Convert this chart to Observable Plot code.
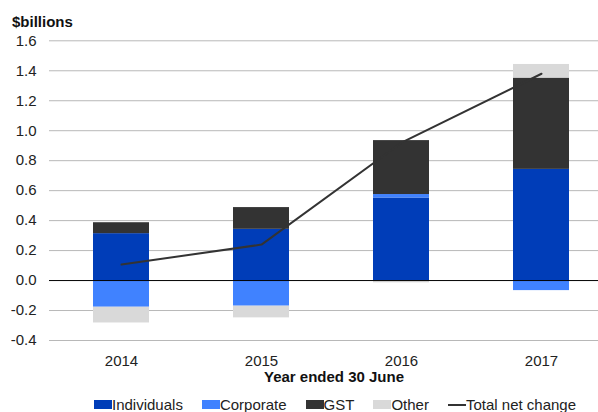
<!DOCTYPE html>
<html>
<head>
<meta charset="utf-8">
<script src="https://cdn.jsdelivr.net/npm/d3@7"></script>
<script src="https://cdn.jsdelivr.net/npm/@observablehq/plot@0.6"></script>
<style>
  html, body { margin: 0; padding: 0; background: #fff; }
  body { width: 598px; height: 412px; position: relative; overflow: hidden;
         font-family: Arial, "Liberation Sans", sans-serif; color: #222; }
  #title { position: absolute; left: 12px; top: 13px; font-size: 15px; font-weight: bold; line-height: 17px; color: #111; }
  #chart { position: absolute; left: 0; top: 30px; }
  #legend { position: absolute; left: 94px; top: 396px; display: flex; gap: 19px; font-size: 15px; line-height: 17px; white-space: nowrap; }
  .item { display: flex; align-items: center; }
  .sw { display: inline-block; width: 18px; height: 9px; }
  .ln { display: inline-block; width: 18px; height: 2px; }
</style>
</head>
<body>
<div id="title">$billions</div>
<div id="chart"></div>
<div id="legend"></div>
<script>
// ---- data ----
const years = ["2014", "2015", "2016", "2017"];
const seriesNames = ["Individuals", "Corporate", "GST", "Other"];
const individuals = [0.313, 0.342, 0.551, 0.742];
const corporate = [-0.178, -0.171, 0.023, -0.067];
const gst = [0.073, 0.145, 0.360, 0.609];
const other = [-0.105, -0.078, -0.015, 0.091];
const totalNetChange = [0.107, 0.240, 0.920, 1.380];
const yTicks = [-0.4, -0.2, 0.0, 0.2, 0.4, 0.6, 0.8, 1.0, 1.2, 1.4, 1.6];
const seriesColors = ["#003db8", "#4082ff", "#333333", "#d9d9d9"];
const lineName = "Total net change";
const xTitle = "Year ended 30 June";

const seriesValues = [individuals, corporate, gst, other];
const bars = [];
seriesNames.forEach((s, si) => {
  years.forEach((y, yi) => bars.push({ year: y, series: s, value: seriesValues[si][yi], order: si }));
});
const lineData = years.map((y, i) => ({ year: y, total: totalNetChange[i] }));

const chart = Plot.plot({
  width: 598,
  height: 362,
  marginLeft: 49,
  marginRight: 0,
  marginTop: 10.3,
  marginBottom: 52,
  style: { fontSize: "15px", fontFamily: "Arial, 'Liberation Sans', sans-serif", color: "#222", background: "transparent" },
  x: { type: "band", domain: years, range: [49.2, 612.5], paddingInner: 0.6, paddingOuter: 0.3 },
  y: { domain: [-0.4, 1.6] },
  color: { domain: seriesNames, range: seriesColors },
  marks: [
    Plot.ruleY(yTicks.filter(d => d !== 0), { stroke: "#b8b8b8", strokeWidth: 1 }),
    Plot.barY(bars, { x: "year", y: "value", fill: "series", order: seriesNames }),
    Plot.ruleY([0], { stroke: "#000", strokeWidth: 1 }),
    Plot.line(lineData, { x: "year", y: "total", stroke: "#333", strokeWidth: 2 }),
    Plot.axisY({ ticks: yTicks, tickFormat: d => d.toFixed(1), tickSize: 0, tickPadding: 13, label: null, fill: "#222" }),
    Plot.axisX({ tickSize: 0, tickPadding: 15, label: null, fill: "#222" }),
    Plot.text([xTitle], { frameAnchor: "bottom", dy: 41, dx: 10, fontWeight: "bold", fontSize: 15, fill: "#111" })
  ]
});
document.getElementById("chart").appendChild(chart);

// legend
const legend = document.getElementById("legend");
seriesNames.forEach((s, i) => {
  const it = document.createElement("div");
  it.className = "item";
  it.innerHTML = `<span class="sw" style="background:${seriesColors[i]}"></span><span>${s}</span>`;
  legend.appendChild(it);
});
const li = document.createElement("div");
li.className = "item";
li.innerHTML = `<span class="ln" style="background:#333"></span><span>${lineName}</span>`;
legend.appendChild(li);
</script>
</body>
</html>
